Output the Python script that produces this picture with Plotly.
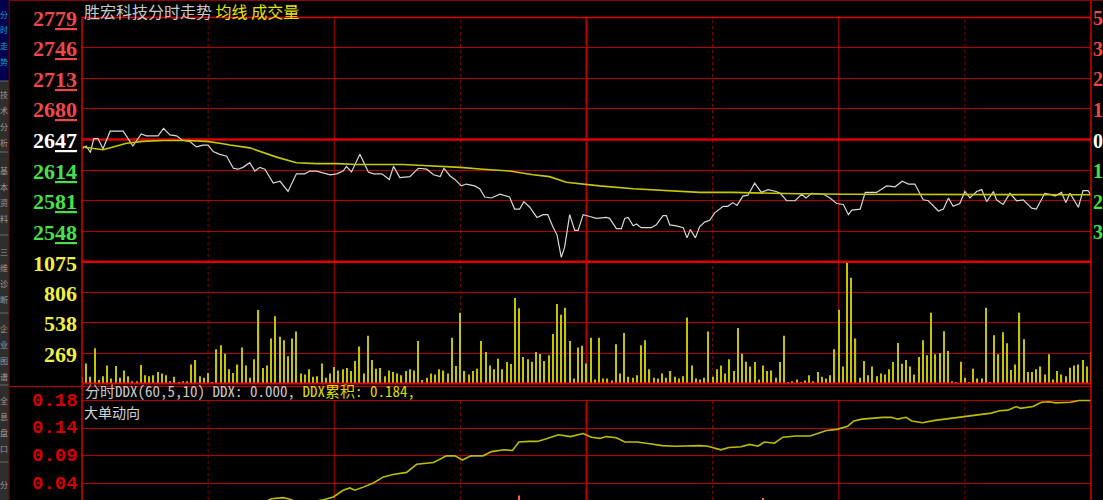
import plotly.graph_objects as go

# ---------------- data ----------------
price_minutes = [0, 1.0, 2.0, 2.8, 3.8, 5.0, 6.7, 7.8, 9.8, 12.1, 14.1, 15.3, 18.1, 19.4, 20.9, 22.5,
                 24.0, 25.6, 27.2, 28.8, 30.0, 31.2, 32.8, 34.4, 36.0, 37.1, 38.3, 39.9, 41.1, 42.3,
                 43.5, 45.5, 47.1, 49.0, 51.0, 53.0, 54.2, 55.8, 57.4, 59.0, 60.6, 62.1, 62.9, 64.1,
                 66.1, 68.1, 69.3, 71.3, 73.1, 74.1, 75.6, 78.0, 80.0, 82.0, 83.6, 85.2, 86.1, 87.5,
                 88.7, 90.2, 91.4, 93.4, 94.6, 95.8, 97.4, 99.4, 101.7, 102.9, 104.1, 105.1, 106.5,
                 108.2, 109.7, 110.8, 112.0, 113.0, 114.0, 114.8, 116.0, 117.2, 118.0, 119.2, 120.8,
                 122.3, 124.7, 125.5, 127.1, 128.3, 129.1, 129.9, 131.1, 131.9, 133.0, 135.4, 136.6,
                 138.2, 139.0, 139.8, 141.4, 143.0, 143.9, 144.7, 145.9, 146.9, 148.1, 149.3, 150.5,
                 152.5, 153.6, 154.8, 155.8, 157.2, 158.4, 160.0, 161.6, 163.2, 165.1, 166.1, 167.6,
                 169.6, 171.2, 172.2, 173.6, 176.4, 177.9, 179.5, 181.1, 182.3, 183.1, 185.1, 186.3,
                 189.0, 191.4, 193.4, 195.1, 196.6, 198.1, 200.1, 201.3, 203.7, 204.9, 206.1, 207.2,
                 208.8, 210.0, 211.2, 212.8, 214.0, 215.2, 216.8, 217.5, 219.1, 220.7, 222.3, 223.9,
                 225.9, 227.0, 229.0, 230.2, 231.4, 233.0, 234.0, 235.0, 237.0, 238.1, 239.3, 240.0]
price_values = [2637, 2640, 2633, 2648, 2648, 2637, 2656, 2656, 2656, 2640, 2653, 2651, 2651, 2659, 2652, 2651,
                2646, 2645, 2639, 2641, 2641, 2634, 2631, 2629, 2616, 2615, 2617, 2622, 2613, 2617,
                2615, 2600, 2602, 2591, 2610, 2610, 2613, 2613, 2611, 2609, 2610, 2613, 2618, 2612,
                2631, 2612, 2610, 2610, 2604, 2618, 2606, 2607, 2616, 2615, 2609, 2607, 2616, 2608,
                2604, 2597, 2599, 2597, 2594, 2585, 2584, 2588, 2585, 2572, 2572, 2580, 2574,
                2563, 2566, 2566, 2553, 2544, 2520, 2531, 2566, 2549, 2549, 2566, 2564,
                2562, 2563, 2562, 2551, 2551, 2562, 2563, 2554, 2556, 2552, 2552, 2555,
                2565, 2565, 2555, 2554, 2552, 2541, 2550, 2541, 2553, 2558, 2560, 2568,
                2575, 2575, 2579, 2576, 2586, 2587, 2600, 2590, 2593, 2591, 2589, 2581,
                2581, 2588, 2584, 2589, 2588, 2584, 2578, 2577, 2566, 2571, 2572, 2590,
                2590, 2597, 2596, 2602, 2599, 2599, 2582, 2581, 2570, 2572, 2584, 2575,
                2578, 2591, 2584, 2591, 2593, 2580, 2591, 2582, 2577, 2589, 2581, 2582,
                2573, 2572, 2589, 2588, 2586, 2590, 2579, 2589, 2574, 2592, 2592, 2587]

avg_minutes = [0, 1.4, 3.0, 5.0, 7.4, 10.6, 14.5, 19.3, 24.8, 29.6, 32.8, 35.2, 39.9, 43.1, 46.3, 51.0,
               55.8, 60.6, 65.3, 71.7, 76.4, 81.2, 85.9, 89.9, 95.4, 101.7, 107.3, 111.2, 115.2,
               119.2, 123.1, 131.1, 139.0, 146.9, 154.8, 162.8, 170, 182, 195, 210, 225, 240]
avg_values = [2639, 2638, 2637, 2636, 2639, 2643, 2645, 2646, 2646, 2645, 2643, 2641, 2638, 2633, 2628, 2622,
              2621, 2621, 2620, 2620, 2620, 2619, 2618, 2617, 2615, 2613, 2609, 2607, 2601,
              2599, 2597, 2594, 2592, 2590, 2590, 2589, 2588.5, 2588, 2588, 2587.5, 2587.5, 2587.5]

volume = [59, 178, 59, 312, 30, 65, 160, 45, 154, 50, 116, 65, 21, 21, 163, 74, 65, 74, 101, 89,
          74, 21, 59, 12, 21, 21, 169, 208, 65, 50, 92, 12, 303, 339, 264, 125, 92, 169, 318, 160,
          50, 214, 650, 137, 160, 398, 594, 413, 383, 241, 398, 460, 89, 80, 125, 59, 65, 178, 50, 89,
          146, 116, 125, 137, 110, 199, 327, 89, 422, 208, 131, 137, 65, 116, 101, 89, 74, 110, 125, 116,
          377, 30, 50, 89, 80, 125, 116, 89, 404, 154, 627, 110, 80, 110, 131, 377, 279, 160, 125, 220,
          125, 190, 172, 757, 665, 235, 214, 193, 279, 261, 199, 249, 437, 704, 609, 671, 377, 45, 318, 333,
          178, 404, 36, 404, 45, 45, 27, 347, 89, 446, 59, 50, 74, 339, 383, 125, 50, 45, 89, 50,
          110, 59, 45, 65, 585, 160, 45, 36, 50, 460, 59, 125, 160, 89, 214, 110, 490, 264, 193, 151,
          190, 36, 160, 110, 116, 50, 190, 422, 9, 21, 36, 9, 27, 74, 21, 101, 59, 45, 74, 303,
          653, 151, 1075, 935, 398, 50, 199, 74, 151, 65, 89, 80, 125, 190, 359, 175, 208, 151, 80, 235,
          383, 249, 627, 258, 270, 463, 288, 21, 9, 193, 50, 12, 131, 45, 45, 671, 9, 428, 258, 454,
          356, 119, 169, 627, 392, 101, 101, 125, 151, 80, 258, 36, 110, 80, 65, 140, 160, 169, 208, 150,
          279]
volume_minutes = list(range(len(volume)))

ddx_minutes = [0, 15, 30, 44, 45.1, 47.9, 49.0, 51, 55, 57.4, 59.8, 62.1, 63.7, 64.9, 66.9, 69.3, 71.7,
               74.0, 77.2, 79.6, 83.6, 86.7, 88.7, 90.5, 92.5, 95.4, 97.4, 100.4, 102.4, 103.9, 106.3,
               108.3, 110.3, 113.3, 116.2, 119.2, 121.2, 123.2, 124.7, 127.1, 129.1, 132.1, 135.0, 138,
               141, 147, 148.9, 151.9, 153.9, 156.8, 158.8, 160.8, 162.3, 164.7, 166.7, 169.7, 173.2,
               175.6, 177.1, 179.6, 182.1, 183.6, 185.5, 190.5, 192.5, 194, 196, 197.4, 199.9, 202.9,
               206.4, 209.8, 213.3, 216.3, 218.2, 220.2, 222.2, 223.2, 226.2, 228.2, 230.1, 231.6,
               235.1, 237.1, 240]
ddx_values = [0.0, 0.008, 0.012, 0.017, 0.0208, 0.0225, 0.0208, 0.016, 0.016, 0.019, 0.0236, 0.0348,
              0.0387, 0.0348, 0.040, 0.047, 0.057, 0.061, 0.0645, 0.078, 0.081, 0.092, 0.092, 0.085,
              0.092, 0.092, 0.099, 0.102, 0.101, 0.115, 0.116, 0.116, 0.120, 0.127, 0.124, 0.129,
              0.123, 0.121, 0.124, 0.122, 0.115, 0.115, 0.112, 0.109, 0.108, 0.109, 0.108, 0.102,
              0.106, 0.107, 0.111, 0.108, 0.115, 0.113, 0.123, 0.125, 0.125, 0.130, 0.134, 0.136,
              0.141, 0.150, 0.153, 0.156, 0.156, 0.153, 0.156, 0.150, 0.147, 0.151, 0.154, 0.157,
              0.160, 0.163, 0.167, 0.168, 0.174, 0.171, 0.174, 0.181, 0.182, 0.180, 0.181, 0.184, 0.184]
ddx_bar_minutes = [104, 162]
ddx_bar_values = [0.026, 0.022]

price_ticks = [2779, 2746, 2713, 2680, 2647, 2614, 2581, 2548]
price_tick_colors = ['#f04848'] * 4 + ['#ffffff'] + ['#48e048'] * 3
pct_labels = ['5', '3', '2', '1', '0', '1', '2', '3']
volume_ticks = [1075, 806, 538, 269]
ddx_ticks = [0.184, 0.138, 0.092, 0.046]
ddx_tick_labels = ['0.18', '0.14', '0.09', '0.04']

sidebar_tabs = ['分时走势', '技术分析', '基本资料', '三维诊断', '企业图谱', '全息盘口', '分']

# ---------------- geometry helpers ----------------
W, H = 1103, 500
L, R, T, B = 82, 12, 17, 0
PW = W - L - R
PH = H - T - B


def px(xp):
    return (xp - L) / PW


def py(yp):
    return (H - B - yp) / PH


RED = '#b80000'
DARKRED = '#8a0000'
BRIGHT = '#dd0000'

fig = go.Figure()
fig.add_trace(go.Scatter(x=price_minutes, y=price_values, mode='lines',
                         line=dict(color='#d8d8d8', width=1.2), xaxis='x', yaxis='y',
                         hoverinfo='skip', showlegend=False))
fig.add_trace(go.Scatter(x=avg_minutes, y=avg_values, mode='lines',
                         line=dict(color='#c8c800', width=1.6), xaxis='x', yaxis='y',
                         hoverinfo='skip', showlegend=False))
fig.add_trace(go.Bar(x=volume_minutes, y=volume, width=0.28,
                     marker=dict(color='#c4c400', line=dict(width=0)),
                     xaxis='x2', yaxis='y2', hoverinfo='skip', showlegend=False))
fig.add_trace(go.Bar(x=ddx_bar_minutes, y=ddx_bar_values, width=0.3, base=0,
                     marker=dict(color='#ff5a5a', line=dict(width=0)),
                     xaxis='x3', yaxis='y3', hoverinfo='skip', showlegend=False))
fig.add_trace(go.Scatter(x=ddx_minutes, y=ddx_values, mode='lines',
                         line=dict(color='#bcbc00', width=1.6), xaxis='x3', yaxis='y3',
                         hoverinfo='skip', showlegend=False))

hidden_x = dict(range=[0, 240], visible=False, fixedrange=True)
fig.update_layout(
    width=W, height=H,
    margin=dict(l=L, r=R, t=T, b=B, pad=0),
    paper_bgcolor='#000000', plot_bgcolor='#000000',
    showlegend=False,
    xaxis=dict(hidden_x, anchor='y'),
    xaxis2=dict(hidden_x, anchor='y2', matches='x'),
    xaxis3=dict(hidden_x, anchor='y3', matches='x'),
    yaxis=dict(domain=[py(262), 1], range=[2515, 2779], tickvals=[2779, 2746, 2713, 2680, 2614, 2581, 2548],
               showticklabels=False, ticks='', showgrid=True, gridcolor=RED, gridwidth=1,
               zeroline=False, showline=False, fixedrange=True),
    yaxis2=dict(domain=[py(383.5), py(262)], range=[0, 1075], tickvals=[806, 538, 269],
                showticklabels=False, ticks='', showgrid=True, gridcolor=RED, gridwidth=1,
                zeroline=False, showline=False, fixedrange=True),
    yaxis3=dict(domain=[0, py(386)], range=[0.0186, 0.2081], tickvals=ddx_ticks,
                showticklabels=False, ticks='', showgrid=True, gridcolor=RED, gridwidth=1,
                zeroline=False, showline=False, fixedrange=True),
)

shapes = []
# vertical time grid
for m in [30, 60, 90, 120, 150, 180, 210]:
    solid = (m % 60 == 0)
    style = dict(color=RED if solid else DARKRED, width=2 if m == 120 else 1,
                 dash='solid' if solid else 'dot')
    shapes.append(dict(type='line', xref='x', yref='paper', x0=m, x1=m, y0=py(383), y1=py(17), line=style,
                       layer='below'))
    shapes.append(dict(type='line', xref='x', yref='paper', x0=m, x1=m, y0=py(500), y1=py(400), line=style,
                       layer='below'))
# thick previous close line and panel separators
shapes.append(dict(type='line', xref='paper', yref='y', x0=0, x1=1, y0=2647, y1=2647,
                   line=dict(color=BRIGHT, width=2.5), layer='below'))
shapes.append(dict(type='line', xref='paper', yref='paper', x0=0, x1=1, y0=py(261.7), y1=py(261.7),
                   line=dict(color=BRIGHT, width=2.5)))
shapes.append(dict(type='line', xref='paper', yref='paper', x0=0, x1=1, y0=py(383.5), y1=py(383.5),
                   line=dict(color=BRIGHT, width=2)))
shapes.append(dict(type='line', xref='paper', yref='paper', x0=px(9), x1=1, y0=py(386.5), y1=py(386.5),
                   line=dict(color=RED, width=1)))
# borders
shapes.append(dict(type='line', xref='paper', yref='paper', x0=0, x1=1, y0=py(17.5), y1=py(17.5),
                   line=dict(color=BRIGHT, width=1.5)))
shapes.append(dict(type='line', xref='paper', yref='paper', x0=0, x1=0, y0=py(500), y1=py(17),
                   line=dict(color=BRIGHT, width=1.5)))
shapes.append(dict(type='line', xref='paper', yref='paper', x0=px(1091), x1=px(1091), y0=py(500), y1=py(0),
                   line=dict(color=BRIGHT, width=1.5)))
shapes.append(dict(type='line', xref='paper', yref='paper', x0=px(9), x1=px(1103), y0=py(0.5), y1=py(0.5),
                   line=dict(color=DARKRED, width=1)))
shapes.append(dict(type='line', xref='paper', yref='paper', x0=px(9), x1=px(9), y0=py(500), y1=py(0),
                   line=dict(color=RED, width=1)))

# sidebar
tab_edges = [0, 81, 152, 235, 313, 385, 462, 500]
for i in range(len(tab_edges) - 1):
    fill = '#00004e' if i == 0 else '#2e2e2e'
    shapes.append(dict(type='rect', xref='paper', yref='paper', x0=px(0), x1=px(8.5),
                       y0=py(tab_edges[i + 1]), y1=py(tab_edges[i]), fillcolor=fill,
                       line=dict(width=0)))
    if i > 0:
        shapes.append(dict(type='line', xref='paper', yref='paper', x0=px(0), x1=px(8.5),
                           y0=py(tab_edges[i]), y1=py(tab_edges[i]),
                           line=dict(color='#6a6a6a', width=1)))
fig.update_layout(shapes=shapes)

ann = []
label_font = dict(family='Liberation Serif, DejaVu Serif, serif', size=22, color='#ffffff', weight='bold')
for v, c in zip(price_ticks, price_tick_colors):
    s = str(v)
    ann.append(dict(xref='paper', yref='y', x=px(79), y=v, xanchor='right', yanchor='middle',
                    text=s[:2] + '<u>' + s[2:] + '</u>', showarrow=False, yshift=-1,
                    font=dict(label_font, color=c)))
for v, t, c in zip(price_ticks, pct_labels, price_tick_colors):
    ann.append(dict(xref='paper', yref='y', x=px(1092), y=v, xanchor='left', yanchor='middle',
                    text=t, showarrow=False, yshift=-1, borderpad=0,
                    font=dict(label_font, size=20, color=c)))
for v in volume_ticks:
    ann.append(dict(xref='paper', yref='y2', x=px(79), y=v, xanchor='right', yanchor='middle',
                    text=str(v), showarrow=False, yshift=-1, font=dict(label_font, color='#f0f040')))
for v, t in zip(ddx_ticks, ddx_tick_labels):
    ann.append(dict(xref='paper', yref='y3', x=px(80), y=v, xanchor='right', yanchor='middle',
                    text=t, showarrow=False,
                    font=dict(family='Liberation Mono, DejaVu Sans Mono, monospace', size=19,
                              color='#d40000', weight='bold')))

ann.append(dict(xref='paper', yref='paper', x=px(83), y=py(11), xanchor='left', yanchor='middle',
                showarrow=False, borderpad=0,
                text='<span style="color:#c8c8c8">胜宏科技分时走势</span> '
                     '<span style="color:#e6e600">均线 成交量</span>',
                font=dict(family='Noto Sans CJK SC, sans-serif', size=16)))
mono = 'Noto Sans Mono CJK SC, Liberation Mono, Noto Sans CJK SC, monospace'
ann.append(dict(xref='paper', yref='paper', x=px(84), y=py(390.5), xanchor='left', yanchor='middle',
                showarrow=False, borderpad=0,
                text='<span style="color:#c8c8c8">分时DDX(60,5,10) DDX: 0.000,</span> '
                     '<span style="color:#dcdc00">DDX累积: 0.184,</span>',
                font=dict(family=mono, size=15)))
ann.append(dict(xref='paper', yref='paper', x=px(83), y=py(412), xanchor='left', yanchor='middle',
                showarrow=False, text='大单动向', borderpad=0,
                font=dict(family='Noto Sans CJK SC, sans-serif', size=14, color='#d4d4d4')))

# sidebar tab labels (small so they fit inside the narrow strip)
tab_starts = [14, 94, 170, 251, 328, 400, 484]
for i, (tab, y0) in enumerate(zip(sidebar_tabs, tab_starts)):
    col = '#10a8c8' if i == 0 else '#9a9a9a'
    for j, ch in enumerate(tab):
        ann.append(dict(xref='paper', yref='paper', x=px(4.3), y=py(y0 + 16 * j), xanchor='center',
                        yanchor='middle', showarrow=False, text=ch, borderpad=0,
                        font=dict(family='Noto Sans CJK SC, sans-serif', size=8, color=col)))
fig.update_layout(annotations=ann)

fig.write_html('out.html', config={'displayModeBar': False},
               post_script="document.body.style.margin='0';document.body.style.overflow='hidden';")
